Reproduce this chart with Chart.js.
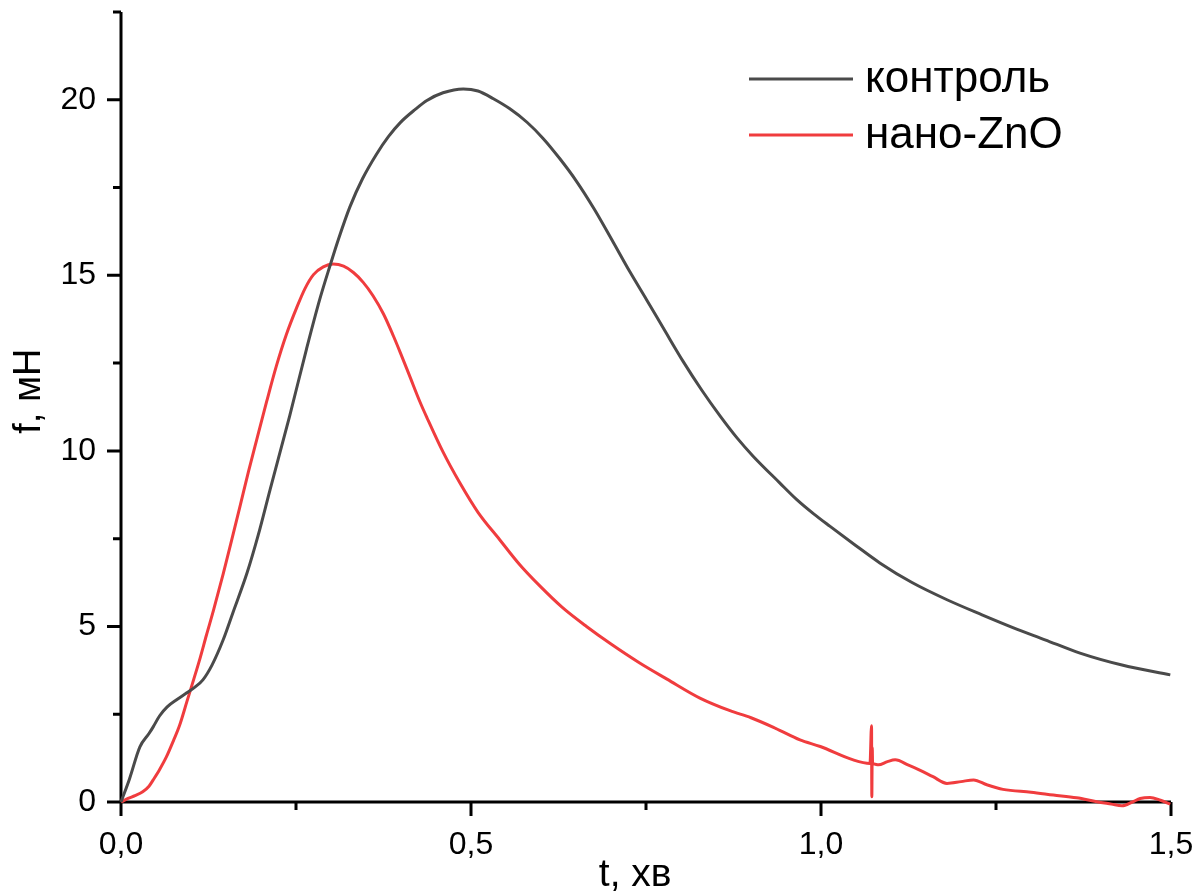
<!DOCTYPE html>
<html>
<head>
<meta charset="utf-8">
<script src="https://cdn.jsdelivr.net/npm/chart.js@4.4.1/dist/chart.umd.min.js"></script>
<style>
  html, body { margin: 0; padding: 0; background: #fff; }
</style>
</head>
<body>
<canvas id="myChart" width="1203" height="895"></canvas>
<script>
//? Données (t en хв, f en мН).

const labelsSeries = ["контроль", "нано-ZnO"];

const tControl = [0, 0.012, 0.027, 0.040, 0.046, 0.055, 0.066, 0.080, 0.094, 0.106, 0.117, 0.130, 0.146, 0.160, 0.180, 0.196, 0.213, 0.241, 0.265, 0.284, 0.299, 0.311, 0.327, 0.345, 0.365, 0.382, 0.399, 0.420, 0.437, 0.460, 0.489, 0.510, 0.532, 0.555, 0.580, 0.603, 0.627, 0.650, 0.676, 0.703, 0.727, 0.751, 0.777, 0.803, 0.830, 0.856, 0.880, 0.903, 0.941, 0.965, 0.990, 1.013, 1.050, 1.084, 1.130, 1.180, 1.230, 1.275, 1.320, 1.370, 1.430, 1.499];
const fControl = [0, 0.65, 1.57, 1.95, 2.14, 2.45, 2.71, 2.92, 3.11, 3.28, 3.48, 3.9, 4.62, 5.4, 6.52, 7.6, 8.9, 11.0, 12.9, 14.32, 15.3, 16.05, 16.95, 17.75, 18.45, 18.95, 19.35, 19.72, 19.98, 20.2, 20.31, 20.25, 20.03, 19.75, 19.36, 18.9, 18.32, 17.7, 16.89, 15.95, 15.1, 14.3, 13.42, 12.55, 11.72, 10.99, 10.37, 9.85, 9.09, 8.62, 8.2, 7.85, 7.3, 6.81, 6.25, 5.76, 5.33, 4.96, 4.62, 4.24, 3.9, 3.62];

const tZnO = [0, 0.010, 0.020, 0.031, 0.040, 0.046, 0.055, 0.065, 0.075, 0.084, 0.094, 0.104, 0.113, 0.122, 0.132, 0.146, 0.158, 0.170, 0.182, 0.194, 0.208, 0.222, 0.236, 0.251, 0.263, 0.275, 0.289, 0.303, 0.318, 0.332, 0.346, 0.360, 0.375, 0.389, 0.399, 0.413, 0.427, 0.437, 0.460, 0.484, 0.510, 0.541, 0.570, 0.599, 0.630, 0.665, 0.700, 0.741, 0.780, 0.827, 0.870, 0.900, 0.935, 0.970, 0.999, 1.046, 1.070, 1.0722, 1.0726, 1.0732, 1.0737, 1.076, 1.082, 1.095, 1.106, 1.125, 1.141, 1.160, 1.180, 1.200, 1.218, 1.237, 1.260, 1.300, 1.332, 1.365, 1.394, 1.415, 1.430, 1.445, 1.456, 1.470, 1.485, 1.499];
const fZnO = [0, 0.1, 0.18, 0.29, 0.45, 0.63, 0.92, 1.29, 1.75, 2.2, 2.85, 3.5, 4.1, 4.75, 5.45, 6.5, 7.45, 8.42, 9.4, 10.33, 11.4, 12.42, 13.3, 14.08, 14.63, 15.02, 15.24, 15.32, 15.26, 15.08, 14.8, 14.42, 13.9, 13.28, 12.8, 12.1, 11.4, 10.95, 9.97, 9.09, 8.25, 7.47, 6.75, 6.14, 5.55, 5.0, 4.5, 3.96, 3.5, 2.96, 2.6, 2.4, 2.1, 1.77, 1.58, 1.2, 1.1, 2.17, 0.15, 1.55, 1.1, 1.08, 1.06, 1.15, 1.2, 1.05, 0.91, 0.72, 0.53, 0.58, 0.63, 0.49, 0.36, 0.28, 0.2, 0.12, 0.01, -0.06, -0.11, 0.0, 0.1, 0.13, 0.05, -0.06];

//? Axes : graduations majeures et mineures.
const xMajorTicks = [0, 0.5, 1.0, 1.5];
const xMinorTicks = [0.25, 0.75, 1.25];
const yMajorTicks = [0, 5, 10, 15, 20];
const yMinorTicks = [2.5, 7.5, 12.5, 17.5, 22.5];

const couleurs = ["#4a4a4a", "#f03c3e"];

//? -------------------------------------------------

const versPoints = (ts, fs) => ts.map((t, i) => ({ x: t, y: fs[i] }));

const police = "'Liberation Sans', Arial, sans-serif";

//? Axes dessinés à la main (ticks sortants, longueurs différentes).
const axesPlugin = {
  id: "axesPlugin",
  beforeDatasetsDraw(chart) {
    const { ctx, chartArea: a, scales } = chart;
    const x = scales.x;
    const y = scales.y;
    ctx.save();
    ctx.strokeStyle = "#000";
    ctx.lineWidth = 3;
    ctx.beginPath();
    ctx.moveTo(a.left, a.top);
    ctx.lineTo(a.left, a.bottom + 1.5);
    ctx.moveTo(a.left - 1.5, a.bottom);
    ctx.lineTo(a.right, a.bottom);
    xMajorTicks.forEach((v) => {
      const px = x.getPixelForValue(v);
      ctx.moveTo(px, a.bottom);
      ctx.lineTo(px, a.bottom + 14);
    });
    xMinorTicks.forEach((v) => {
      const px = x.getPixelForValue(v);
      ctx.moveTo(px, a.bottom);
      ctx.lineTo(px, a.bottom + 8);
    });
    yMajorTicks.forEach((v) => {
      const py = y.getPixelForValue(v);
      ctx.moveTo(a.left, py);
      ctx.lineTo(a.left - 14, py);
    });
    yMinorTicks.forEach((v) => {
      const py = y.getPixelForValue(v);
      ctx.moveTo(a.left, py);
      ctx.lineTo(a.left - 8, py);
    });
    ctx.stroke();
    ctx.restore();
  },
};

//? Légende dans la zone du graphique, en haut à droite.
const legendePlugin = {
  id: "legendePlugin",
  afterDraw(chart) {
    const { ctx } = chart;
    ctx.save();
    ctx.font = "44px " + police;
    ctx.textBaseline = "middle";
    ctx.fillStyle = "#000";
    chart.data.datasets.forEach((ds, i) => {
      const yLigne = 79 + i * 56;
      ctx.strokeStyle = ds.borderColor;
      ctx.lineWidth = 3;
      ctx.beginPath();
      ctx.moveTo(749, yLigne);
      ctx.lineTo(853, yLigne);
      ctx.stroke();
      ctx.fillText(ds.label, 865, yLigne + 1);
    });
    ctx.restore();
  },
};

let constructionDuGraphique = () => {
  const ctx = document.getElementById("myChart").getContext("2d");

  const data = {
    datasets: [
      {
        label: labelsSeries[0],
        data: versPoints(tControl, fControl),
        borderColor: couleurs[0],
        borderWidth: 3,
        pointRadius: 0,
        cubicInterpolationMode: "monotone",
        clip: 8,
      },
      {
        label: labelsSeries[1],
        data: versPoints(tZnO, fZnO),
        borderColor: couleurs[1],
        borderWidth: 3,
        pointRadius: 0,
        cubicInterpolationMode: "monotone",
        clip: 8,
      },
    ],
  };

  const options = {
    responsive: false,
    animation: { duration: 0 },
    layout: { padding: { top: 12, right: 32, left: 0, bottom: 0 } },
    plugins: { legend: { display: false }, tooltip: { enabled: false } },
    scales: {
      x: {
        type: "linear",
        min: 0,
        max: 1.5,
        grid: { display: false },
        border: { display: false },
        ticks: {
          stepSize: 0.5,
          autoSkip: false,
          maxRotation: 0,
          padding: 16,
          color: "#000",
          font: { family: police, size: 32 },
          callback: (v) => v.toFixed(1).replace(".", ","),
        },
        title: {
          display: true,
          text: "t, хв  ",
          color: "#000",
          font: { family: police, size: 39, lineHeight: 1 },
          padding: { top: 0, bottom: 0 },
        },
        afterFit: (s) => {
          s.height = 93;
          s.paddingLeft = 0;
          s.paddingRight = 0;
        },
      },
      y: {
        type: "linear",
        min: 0,
        max: 22.5,
        grid: { display: false },
        border: { display: false },
        ticks: {
          stepSize: 5,
          autoSkip: false,
          padding: 17,
          color: "#000",
          font: { family: police, size: 32 },
          callback: (v) => (v % 5 === 0 ? String(v) : ""),
        },
        title: {
          display: true,
          text: "   f, мН",
          color: "#000",
          font: { family: police, size: 38, lineHeight: 1 },
          padding: { top: 11, bottom: 0 },
        },
        afterFit: (s) => {
          s.width = 121;
          s.paddingTop = 0;
          s.paddingBottom = 0;
        },
      },
    },
  };

  new Chart(ctx, { type: "line", data, options, plugins: [axesPlugin, legendePlugin] });
};

constructionDuGraphique();
</script>
</body>
</html>
